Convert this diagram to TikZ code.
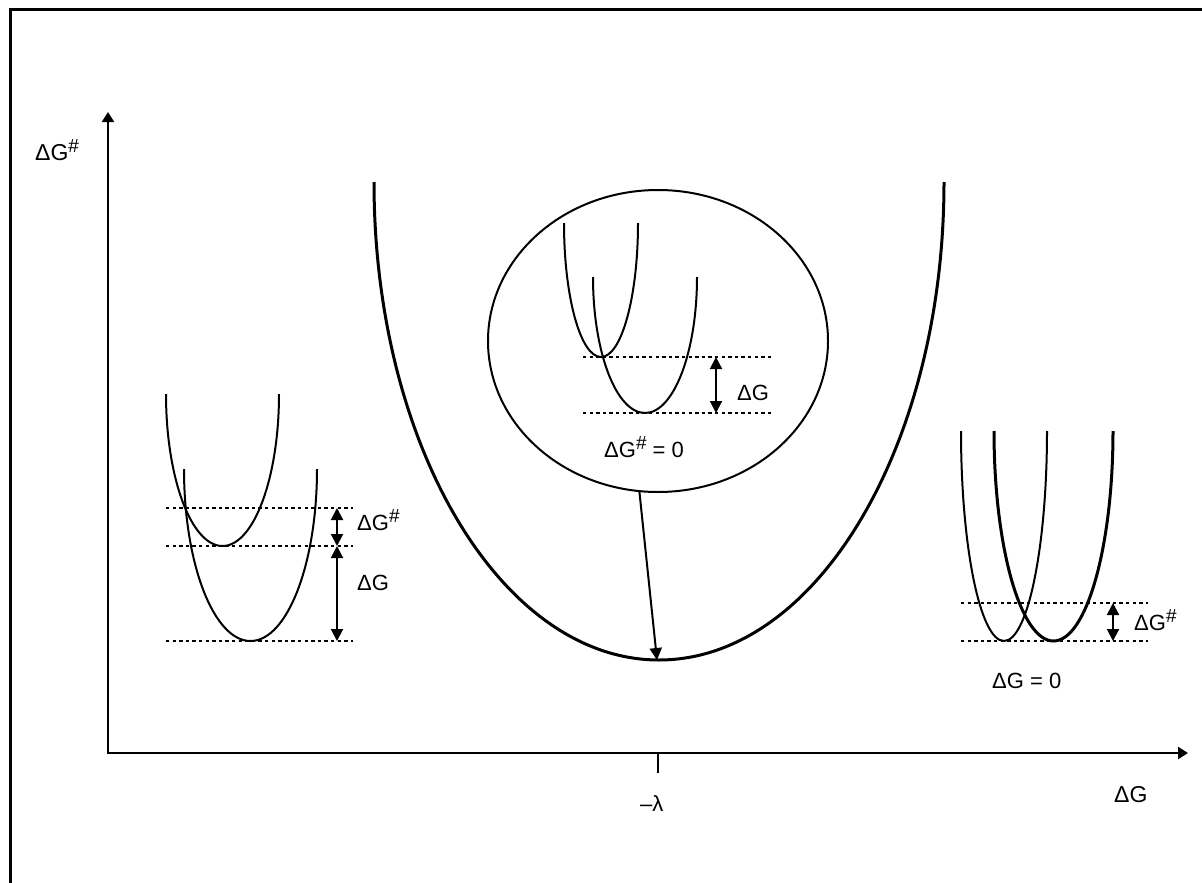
\documentclass[tikz,border=0pt]{standalone}
\usepackage{fontspec}
\setmainfont{Liberation Sans}
\usetikzlibrary{arrows.meta,shapes.geometric}
% lower half of an ellipse: centre x, top y, half width, depth
\newcommand{\well}[5][]{\draw[curve,#1] (#2-#4,#3) arc[start angle=180,end angle=360,x radius=#4pt,y radius=#5pt];}
\newcommand{\dGh}{ΔG\raisebox{8pt}{\fontsize{19}{19}\selectfont\#}}

\begin{document}
\begin{tikzpicture}[x=1pt,y=-1pt,
    curve/.style={line width=2pt},
    dotline/.style={line width=2pt,dash pattern=on 3.3pt off 3.3pt},
    dbl/.style={line width=2pt,{Triangle[length=12pt,width=12pt]}-{Triangle[length=12pt,width=12pt]}},
    lbl/.style={anchor=base west,inner sep=0pt,font=\fontsize{22}{26}\selectfont}]
  \useasboundingbox (0,0) rectangle (1202,883);
  % frame
  \draw[line width=3pt] (10,883) -- (10,10) -- (1202,10);
  % axes
  \coordinate (O) at (108,753);
  \coordinate (ytip) at (108,112);
  \coordinate (xtip) at (1188,753);
  \coordinate (tick) at (658,773);
  \draw[line width=2.4pt,{Triangle[length=10pt,width=12pt]}-{Triangle[length=10pt,width=12pt]}]
    (ytip) -- (O) -- (xtip);
  \draw[line width=2pt] (658,753) -- (tick);
  \node[lbl,font=\fontsize{23}{27}\selectfont] (ylab) at (35,160) {\dGh};
  \node[lbl,font=\fontsize{23}{27}\selectfont] (xlab) at (1114,802) {ΔG};
  \node[lbl] (lam) at (640,811) {–λ};

  % big well
  \well[line width=3pt]{659}{182}{285}{478}
  \coordinate (bigmin) at (657,660);

  % inset
  \node[draw,ellipse,line width=2pt,minimum width=340pt,minimum height=302pt,inner sep=0pt]
    (lens) at (658,341) {};
  \draw[line width=2pt,-{Triangle[length=12pt,width=12pt]}] (lens.263) -- (bigmin);
  \well{601}{223}{37}{134}
  \well{645}{277}{52}{136}
  \draw[dotline] (583,357) -- (772,357);
  \draw[dotline] (583,413) -- (772,413);
  \coordinate (c1) at (716,357);
  \coordinate (c2) at (716,413);
  \draw[dbl] (c1) -- (c2);
  \node[lbl] (cdg) at (737,400) {ΔG};
  \node[lbl] (czero) at (604,457) {\dGh{} = 0};

  % left: normal region
  \well{222.5}{394}{56.5}{152}
  \well{250.5}{469}{66.5}{172}
  \foreach \y in {508,546,641}
    \draw[dotline] (166,\y) -- (353,\y);
  \coordinate (a1) at (337,508);
  \coordinate (a2) at (337,546);
  \coordinate (a3) at (337,641);
  \draw[dbl] (a1) -- (a2);
  \draw[dbl] (a2) -- (a3);
  \node[lbl] (ldgh) at (357,530) {\dGh};
  \node[lbl] (ldg) at (357,590) {ΔG};

  % right: zero driving force
  \well{1004}{431}{43}{210}
  \well[line width=3pt]{1053.5}{431}{59.5}{210}
  \draw[dotline] (961,603) -- (1148,603);
  \draw[dotline] (961,641) -- (1148,641);
  \coordinate (b1) at (1113,603);
  \coordinate (b2) at (1113,641);
  \draw[dbl] (b1) -- (b2);
  \node[lbl] (rdgh) at (1134,630) {\dGh};
  \node[lbl] (rzero) at (992,688) {ΔG = 0};
\end{tikzpicture}
\end{document}
